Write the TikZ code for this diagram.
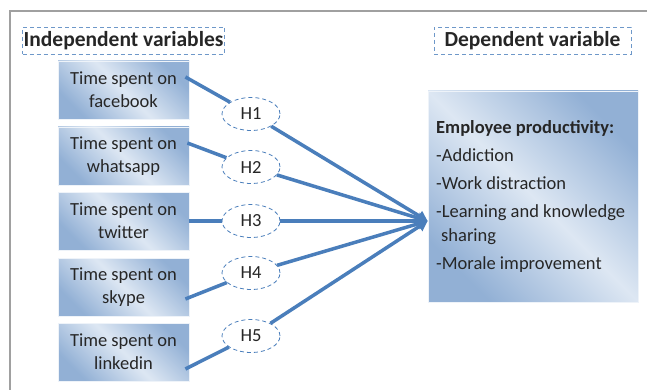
\documentclass[tikz,border=0pt]{standalone}
\usepackage{fontspec}
\setmainfont{Carlito}
\usetikzlibrary{shapes.geometric,arrows.meta,calc}
\definecolor{linkblue}{HTML}{4A7EBB}
\definecolor{boxdark}{HTML}{92B0D5}
\definecolor{boxlight}{HTML}{DDE7F3}
\definecolor{framegray}{HTML}{A0A0A0}
\definecolor{inkgray}{HTML}{262626}
\begin{document}
\begin{tikzpicture}[x=1pt,y=-1pt, text=inkgray,
  shadedbox/.style={rectangle, draw=white!50!boxlight, line width=0.8pt,
    top color=boxdark, bottom color=boxdark, middle color=boxlight,
    shading angle=-45, inner sep=0pt},
  varbox/.style={shadedbox, font=\fontsize{18.5}{23}\selectfont, align=center,
    minimum width=131pt, minimum height=58pt},
  headbox/.style={rectangle, draw=linkblue!80, dashed, line width=0.9pt,
    dash pattern=on 4pt off 3pt, font=\fontsize{21.5}{24}\bfseries,
    minimum height=27pt, inner sep=1pt},
  hyp/.style={ellipse, draw=linkblue, line width=0.8pt, dash pattern=on 4pt off 3pt,
    fill=white, minimum width=58pt, minimum height=33pt, inner sep=0pt,
    font=\fontsize{18.5}{20}\selectfont},
  link/.style={draw=linkblue, line width=3.5pt},
  arrowlink/.style={link, -{Triangle[length=10pt,width=11pt]}, shorten >=0pt}
]
\useasboundingbox (0,0) rectangle (647,390);

% outer frame
\draw[framegray, line width=1.4pt] (10,391) -- (10,11) -- (648,11);

% headings
\node[headbox, minimum width=202pt] (indep) at (123.5,40.5) {Independent variables};
\node[headbox, minimum width=197pt] (dep) at (532.5,40.5) {Dependent variable};

% independent variables
\node[varbox] (f1) at (123.5,90)  {Time spent on\\facebook};
\node[varbox] (f2) at (123.5,156) {Time spent on\\whatsapp};
\node[varbox] (f3) at (123.5,221) {Time spent on\\twitter};
\node[varbox] (f4) at (123.5,287) {Time spent on\\skype};
\node[varbox] (f5) at (123.5,352) {Time spent on\\linkedin};

% dependent variable
\node[shadedbox, minimum width=210pt, minimum height=211pt] (ep) at (533,196.5) {};
\node[anchor=north west, align=left, inner sep=0pt,
      font=\fontsize{18.5}{28}\selectfont] (eptext) at (436,120.5)
  {\textbf{Employee productivity:}\\
   -Addiction\\
   -Work distraction\\
   -Learning and knowledge\\[-4pt]
   \hspace*{5pt}sharing\\
   -Morale improvement};

% hypotheses
\node[hyp] (h1) at (251,114) {H1};
\node[hyp] (h2) at (251,167) {H2};
\node[hyp] (h3) at (251,221) {H3};
\node[hyp] (h4) at (251,273) {H4};
\node[hyp] (h5) at (251,336) {H5};

% connector end points
\coordinate (s1) at ($(f1.east)+(-4,-13)$);
\coordinate (s2) at ($(f2.east)+(-2,-13)$);
\coordinate (s3) at ($(f3.east)+(0,0)$);
\coordinate (s4) at ($(f4.east)+(-4,12)$);
\coordinate (s5) at ($(f5.east)+(-4,17)$);
\coordinate (tip) at ($(ep.west)+(0,24.5)$);

% variable -> hypothesis
\foreach \i in {1,...,5} {
  \draw[link] (s\i) -- (h\i);
}
% hypothesis -> dependent variable
\foreach \i in {1,...,5} {
  \draw[arrowlink] (h\i) -- (tip);
}
\end{tikzpicture}
\end{document}
